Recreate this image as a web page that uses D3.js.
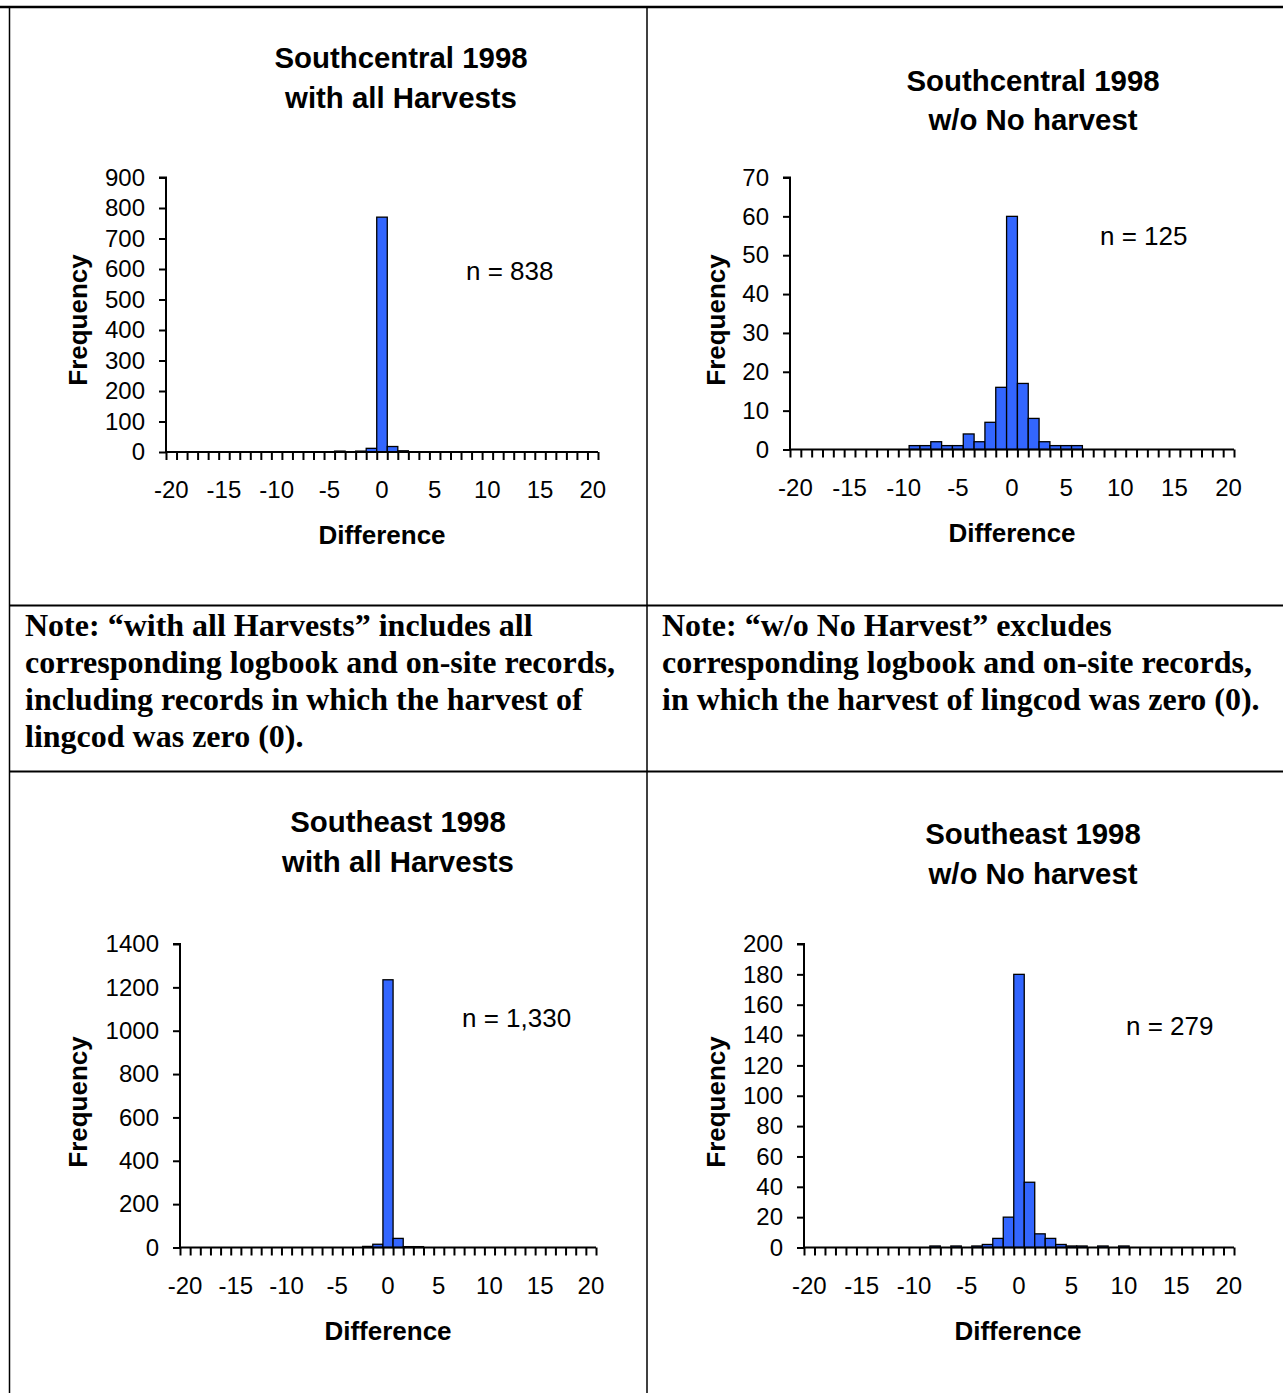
<!DOCTYPE html>
<html>
<head>
<meta charset="utf-8">
<script src="https://cdn.jsdelivr.net/npm/d3@7"></script>
<style>
  html, body { margin: 0; padding: 0; background: #fff; }
  svg { display: block; }
  .sans { font-family: "Liberation Sans", Arial, sans-serif; }
  .serif { font-family: "Liberation Serif", "Times New Roman", serif; }
</style>
</head>
<body>
<svg id="page" width="1283" height="1393"></svg>
<script>
// Difference categories (-20 ... 20) and the ones carrying a tick label
const differences = d3.range(-20, 21);
const labelledDifferences = [-20, -15, -10, -5, 0, 5, 10, 15, 20];

// Frequency of each difference, one value per category from -20 to 20
const southcentralAll = [
  0,0,0,0,0,0,0,0,0,0, 0,0,0,0,0,0, 3,0,3,12, 770, 18,4,0,0,0, 0,0,0,0,0, 0,0,0,0,0, 0,0,0,0,0
];
const southcentralHarvest = [
  0,0,0,0,0,0,0,0,0,0, 0,1,1,2,1,1, 4,2,7,16, 60, 17,8,2,1,1, 1,0,0,0,0, 0,0,0,0,0, 0,0,0,0,0
];
const southeastAll = [
  0,0,0,0,0,0,0,0,0,0, 0,0,0,0,0,0, 0,0,5,15, 1235, 42,4,4,0,0, 0,0,0,0,0, 0,0,0,0,0, 0,0,0,0,0
];
const southeastHarvest = [
  0,0,0,0,0,0,0,0,0,0, 0,0,1,0,1,0, 1,2,6,20, 180, 43,9,6,2,1, 1,0,1,0,1, 0,0,0,0,0, 0,0,0,0,0
];

// Y axis tick values for each histogram
const ticksSouthcentralAll = d3.range(0, 901, 100);
const ticksSouthcentralHarvest = d3.range(0, 71, 10);
const ticksSoutheastAll = d3.range(0, 1401, 200);
const ticksSoutheastHarvest = d3.range(0, 201, 20);

// Panel texts
const titles = [
  ["Southcentral 1998", "with all Harvests"],
  ["Southcentral 1998", "w/o No harvest"],
  ["Southeast 1998", "with all Harvests"],
  ["Southeast 1998", "w/o No harvest"]
];
const sampleSizes = ["n = 838", "n = 125", "n = 1,330", "n = 279"];
const noteLeft = [
  "Note: \u201cwith all Harvests\u201d includes all",
  "corresponding logbook and on-site records,",
  "including records in which the harvest of",
  "lingcod was zero (0)."
];
const noteRight = [
  "Note: \u201cw/o No Harvest\u201d excludes",
  "corresponding logbook and on-site records,",
  "in which the harvest of lingcod was zero (0)."
];

const svg = d3.select("#page");

// ---- table grid ----
const grid = svg.append("g").attr("stroke", "#000").attr("fill", "none");
grid.append("line").attr("x1", 0).attr("x2", 1283).attr("y1", 7).attr("y2", 7).attr("stroke-width", 2.5);
grid.append("line").attr("x1", 9.5).attr("x2", 9.5).attr("y1", 6).attr("y2", 1393).attr("stroke-width", 1.5);
grid.append("line").attr("x1", 647).attr("x2", 647).attr("y1", 6).attr("y2", 1393).attr("stroke-width", 1.5);
grid.append("line").attr("x1", 9).attr("x2", 1283).attr("y1", 605.5).attr("y2", 605.5).attr("stroke-width", 2);
grid.append("line").attr("x1", 9).attr("x2", 1283).attr("y1", 771.5).attr("y2", 771.5).attr("stroke-width", 2);

// ---- note cells ----
function drawNote(lines, x) {
  const t = svg.append("text").attr("class", "serif")
    .attr("font-weight", "bold").attr("font-size", 32).attr("fill", "#000");
  lines.forEach((s, i) => {
    t.append("tspan").attr("x", x).attr("y", 636 + i * 37).text(s);
  });
}
drawNote(noteLeft, 25);
drawNote(noteRight, 662);

// ---- histogram panels ----
function histogram(cfg) {
  const g = svg.append("g").attr("class", "sans");

  const x = d3.scaleBand().domain(differences).range([cfg.left, cfg.right]).padding(0);
  const xEdge = d3.scaleLinear().domain([-20.5, 20.5]).range([cfg.left, cfg.right]);
  const y = d3.scaleLinear().domain([0, d3.max(cfg.ticks)]).range([cfg.bottom, cfg.top]);

  // title
  const tt = g.append("text").attr("text-anchor", "middle")
    .attr("font-weight", "bold").attr("font-size", 29.4).attr("fill", "#000");
  cfg.title.forEach((s, i) => {
    tt.append("tspan").attr("x", cfg.titleX).attr("y", cfg.titleY + i * 39.5).text(s);
  });

  // bars
  g.append("g").selectAll("rect")
    .data(cfg.values.map((v, i) => ({ d: differences[i], v })).filter(o => o.v > 0))
    .join("rect")
    .attr("x", o => x(o.d))
    .attr("width", x.bandwidth())
    .attr("y", o => y(o.v))
    .attr("height", o => y(0) - y(o.v))
    .attr("fill", "#3366FF")
    .attr("stroke", "#000")
    .attr("stroke-width", 1.3);

  // y axis
  const ya = g.append("g").attr("transform", `translate(${cfg.left},0)`)
    .call(d3.axisLeft(y).tickValues(cfg.ticks).tickSize(7).tickPadding(14).tickFormat(d3.format("d")));
  ya.select(".domain").attr("stroke-width", 2).attr("d", `M-7,${cfg.top}H0V${cfg.bottom}`);
  ya.selectAll(".tick line").attr("stroke-width", 2);
  ya.selectAll(".tick text").attr("font-size", 24).attr("font-family", "Liberation Sans, Arial, sans-serif").attr("fill", "#000");

  // x axis: tick marks between categories
  const xa = g.append("g").attr("transform", `translate(0,${cfg.bottom})`)
    .call(d3.axisBottom(xEdge).tickValues(d3.range(-20.5, 20.6, 1)).tickSize(8).tickFormat(""));
  xa.select(".domain").attr("stroke-width", 2).attr("d", `M${cfg.left},0H${cfg.right}`);
  xa.selectAll(".tick line").attr("stroke-width", 2);

  // x axis: labels centred on categories
  const xl = g.append("g").attr("transform", `translate(0,${cfg.bottom})`)
    .call(d3.axisBottom(x).tickValues(labelledDifferences).tickSize(0).tickPadding(cfg.xPad));
  xl.select(".domain").remove();
  xl.selectAll(".tick text").attr("font-size", 24).attr("font-family", "Liberation Sans, Arial, sans-serif").attr("fill", "#000");

  // axis titles
  g.append("text").attr("text-anchor", "middle").attr("font-weight", "bold").attr("font-size", 26)
    .attr("x", cfg.diffX).attr("y", cfg.diffY).text("Difference");
  g.append("text").attr("text-anchor", "middle").attr("font-weight", "bold").attr("font-size", 26)
    .attr("transform", `translate(${cfg.freqX},${cfg.freqY}) rotate(-90)`).text("Frequency");

  // sample size
  g.append("text").attr("font-size", 26).attr("x", cfg.nX).attr("y", cfg.nY).text(cfg.n);
}

histogram({
  values: southcentralAll, ticks: ticksSouthcentralAll, title: titles[0], n: sampleSizes[0],
  left: 166, right: 598, top: 177.5, bottom: 452,
  titleX: 401, titleY: 68, xPad: 29, diffX: 382, diffY: 544, freqX: 87, freqY: 320, nX: 466, nY: 280
});
histogram({
  values: southcentralHarvest, ticks: ticksSouthcentralHarvest, title: titles[1], n: sampleSizes[1],
  left: 790, right: 1234, top: 177.5, bottom: 449.5,
  titleX: 1033, titleY: 90.5, xPad: 29, diffX: 1012, diffY: 542, freqX: 725, freqY: 320, nX: 1100, nY: 245
});
histogram({
  values: southeastAll, ticks: ticksSoutheastAll, title: titles[2], n: sampleSizes[2],
  left: 180, right: 596, top: 944, bottom: 1247.5,
  titleX: 398, titleY: 832, xPad: 29, diffX: 388, diffY: 1340, freqX: 87, freqY: 1102, nX: 462, nY: 1027
});
histogram({
  values: southeastHarvest, ticks: ticksSoutheastHarvest, title: titles[3], n: sampleSizes[3],
  left: 804, right: 1234, top: 944, bottom: 1247.5,
  titleX: 1033, titleY: 844, xPad: 29, diffX: 1018, diffY: 1340, freqX: 725, freqY: 1102, nX: 1126, nY: 1035
});
</script>
</body>
</html>
